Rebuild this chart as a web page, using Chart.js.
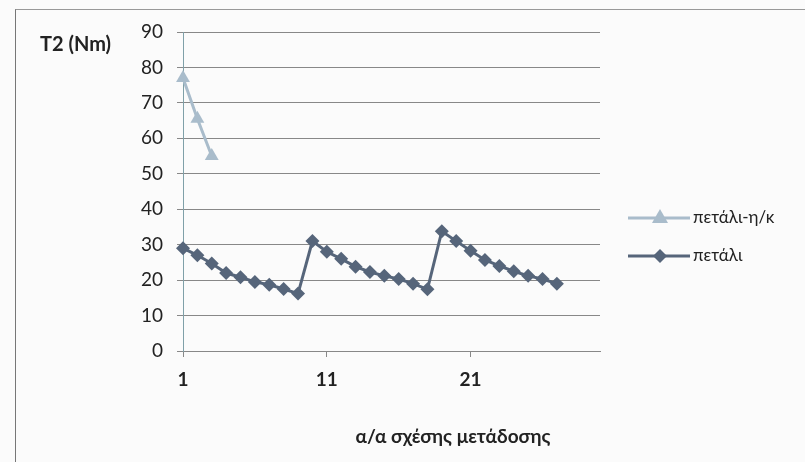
<!DOCTYPE html>
<html>
<head>
<meta charset="utf-8">
<script src="https://cdn.jsdelivr.net/npm/chart.js@4.4.1/dist/chart.umd.min.js"></script>
<style>
  html, body { margin: 0; padding: 0; background: #fbfbfb; }
  #wrap { position: relative; width: 805px; height: 462px; }
  #frame { position: absolute; left: 15px; top: 9px; width: 800px; height: 460px;
           border-left: 1px solid #777; border-top: 1px solid #999; box-sizing: border-box; }
  #graph { position: absolute; left: 0; top: 0; }
</style>
</head>
<body>
<div id="wrap">
  <div id="frame"></div>
  <canvas id="graph" width="805" height="462"></canvas>
</div>
<script>
const CATS = ["1","2","3","4","5","6","7","8","9","10","11","12","13","14","15",
              "16","17","18","19","20","21","22","23","24","25","26","27","28","29","30"];
const SHOWN = ["1", "11", "21"];

const PEDAL_HK = [77, 65.5, 55];
const PEDAL = [29, 27, 24.7, 22, 20.8, 19.5, 18.7, 17.5, 16.2,
               31, 28, 26, 23.8, 22.3, 21.2, 20.3, 19, 17.4,
               33.8, 31, 28.3, 25.7, 24, 22.5, 21.2, 20.3, 19];

const Y_TITLE = "T2 (Nm)";
const X_TITLE = "α/α σχέσης μετάδοσης";

const DARK = "#56657a";
const LIGHT = "#a9bccb";
const FONT = "Lato, 'Open Sans', sans-serif";

const extraText = {
  id: "extraText",
  afterDraw(chart) {
    const c = chart.ctx;
    c.save();
    c.fillStyle = "#222";
    c.font = "bold 20px " + FONT;
    c.textBaseline = "middle";
    c.textAlign = "left";
    c.fillText(Y_TITLE, 40, 45);
    c.textAlign = "center";
    c.font = "bold 19px " + FONT;
    c.fillText(X_TITLE, 453, 437);

    // legend
    const rows = [218, 256];
    chart.data.datasets.forEach((ds, i) => {
      const y = rows[i];
      c.strokeStyle = ds.borderColor;
      c.lineWidth = 3;
      c.beginPath();
      c.moveTo(628, y);
      c.lineTo(690, y);
      c.stroke();
      c.fillStyle = ds.backgroundColor;
      c.beginPath();
      if (ds.pointStyle === "triangle") {
        c.moveTo(660, y - 9);
        c.lineTo(668, y + 5);
        c.lineTo(652, y + 5);
      } else {
        c.moveTo(660, y - 7);
        c.lineTo(667, y);
        c.lineTo(660, y + 7);
        c.lineTo(653, y);
      }
      c.closePath();
      c.fill();
      c.fillStyle = "#222";
      c.font = "17px " + FONT;
      c.textAlign = "left";
      c.fillText(ds.label, 693, y);
    });
    c.restore();
  }
};

new Chart(document.getElementById("graph").getContext("2d"), {
  type: "line",
  data: {
    labels: CATS,
    datasets: [
      {
        label: "πετάλι-η/κ",
        data: PEDAL_HK,
        borderColor: LIGHT,
        backgroundColor: LIGHT,
        borderWidth: 3,
        pointStyle: "triangle",
        pointRadius: 8,
        pointBorderWidth: 0,
        tension: 0
      },
      {
        label: "πετάλι",
        data: PEDAL,
        borderColor: DARK,
        backgroundColor: DARK,
        borderWidth: 3,
        pointStyle: "rectRot",
        pointRadius: 7,
        pointBorderWidth: 0,
        tension: 0
      }
    ]
  },
  options: {
    responsive: false,
    animation: false,
    layout: { padding: { left: 123, right: 205, top: 32, bottom: 0 } },
    plugins: {
      legend: { display: false },
      tooltip: { enabled: false }
    },
    scales: {
      x: {
        offset: false,
        afterFit(scale) { scale.height = 111; },
        border: { color: "#888", width: 1 },
        grid: { drawOnChartArea: false, drawTicks: true, tickLength: 6, color: "#888" },
        ticks: {
          autoSkip: false,
          maxRotation: 0,
          padding: 11,
          color: "#222",
          font: { family: FONT, size: 19, weight: "bold" },
          callback(val) {
            const lab = CATS[val];
            return SHOWN.includes(lab) ? lab : null;
          }
        }
      },
      y: {
        min: 0,
        max: 90,
        afterFit(scale) { scale.width = 60; },
        border: { color: "#7fa0a8", width: 1 },
        grid: { color: "#888", lineWidth: 1, tickLength: 6 },
        ticks: {
          stepSize: 10,
          padding: 14,
          color: "#222",
          font: { family: FONT, size: 19 }
        }
      }
    }
  },
  plugins: [extraText]
});
</script>
</body>
</html>
